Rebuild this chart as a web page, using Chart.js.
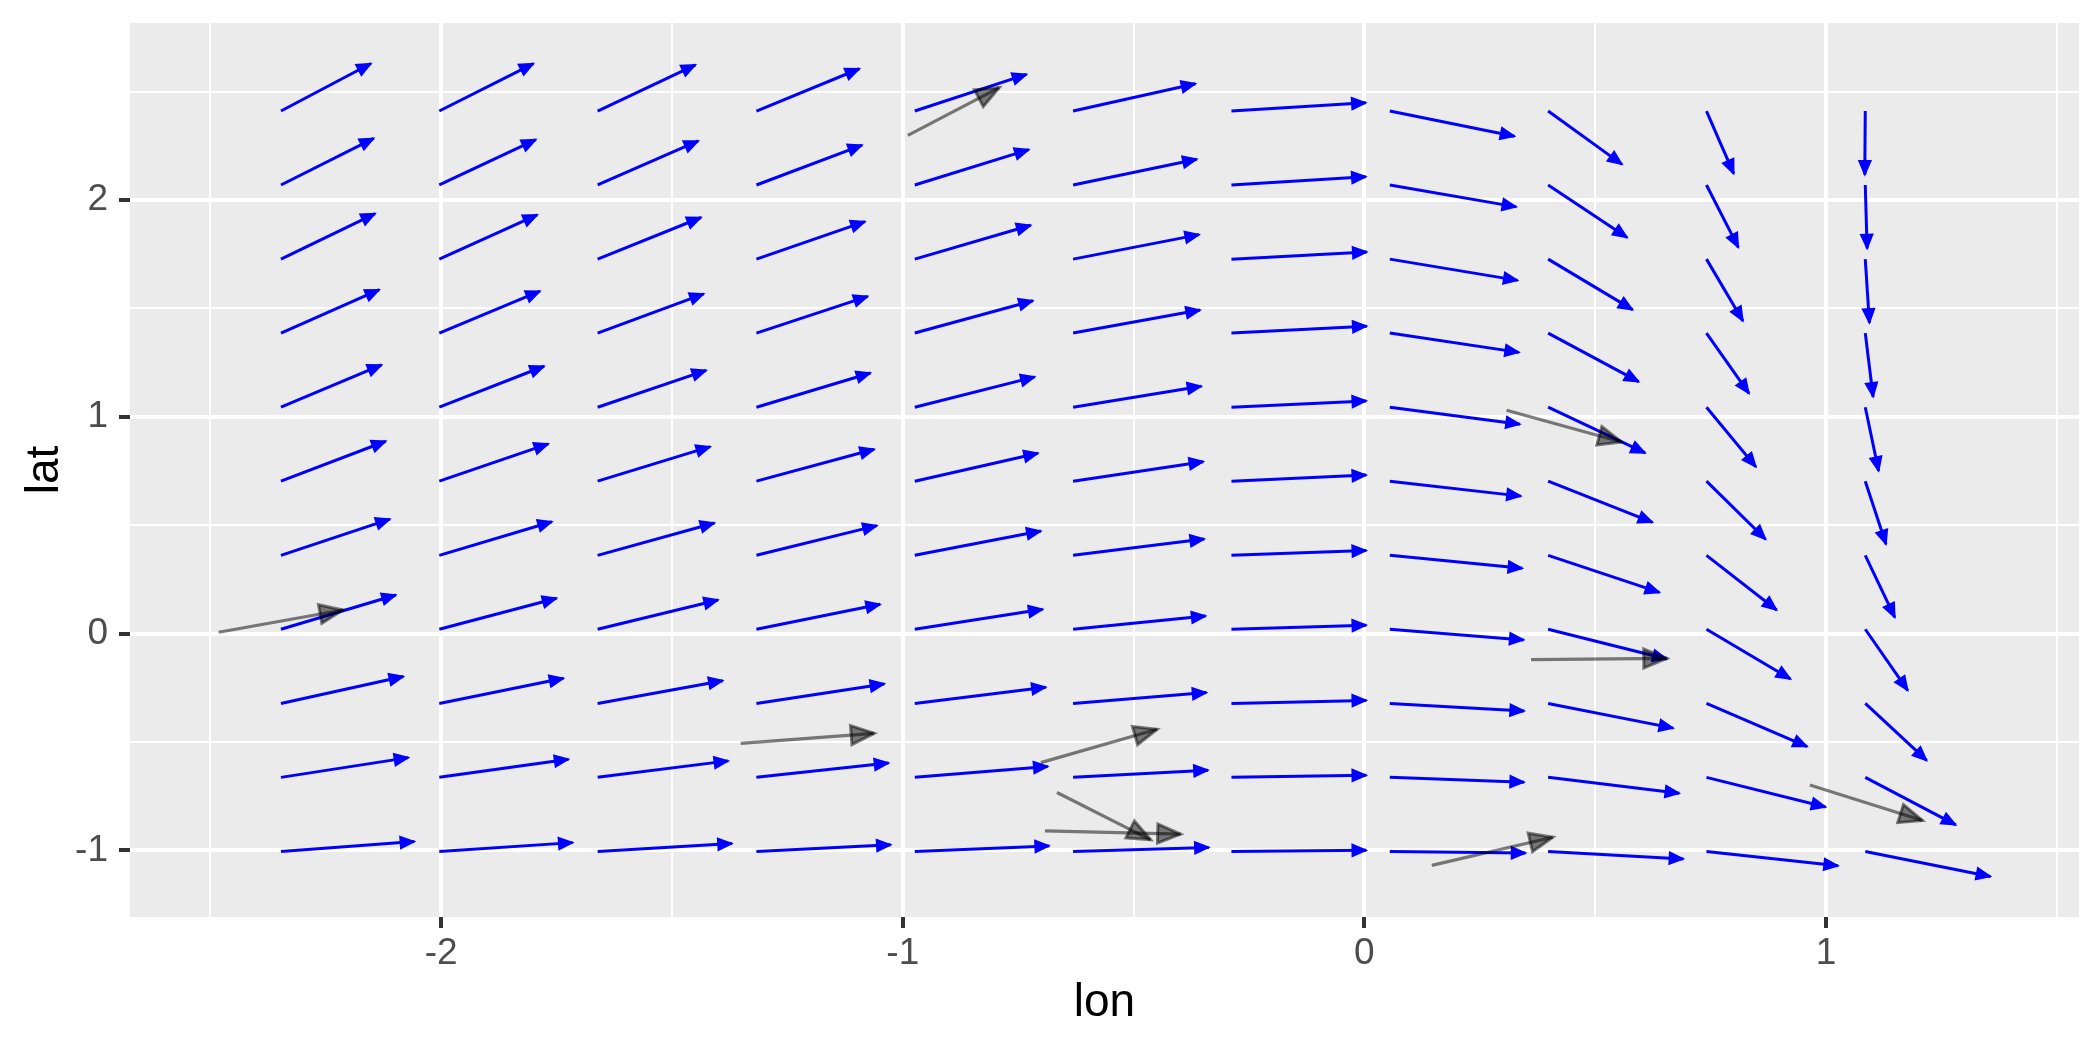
<!DOCTYPE html>
<html>
<head>
<meta charset="utf-8">
<script src="https://cdn.jsdelivr.net/npm/chart.js@4.4.1/dist/chart.umd.min.js"></script>
<style>
  html, body { margin: 0; padding: 0; background: #fff; }
  #wrap { width: 2100px; height: 1050px; }
</style>
</head>
<body>
<div id="wrap"><canvas id="field" width="2100" height="1050"></canvas></div>
<script>
// ── Arrow tails (regular grid) ──
const lonGrid = [-2.347, -2.004, -1.661, -1.317, -0.974, -0.631, -0.288, 0.055, 0.398, 0.741, 1.085];
const latGrid = [-1.005, -0.663, -0.322, 0.020, 0.361, 0.703, 1.044, 1.386, 1.727, 2.069, 2.410];

// ── Field components, one row per latGrid value (bottom row first) ──
const uRows = [
    [0.289, 0.289, 0.291, 0.291, 0.291, 0.294, 0.292, 0.294, 0.293, 0.285, 0.271],
    [0.276, 0.280, 0.283, 0.286, 0.288, 0.292, 0.292, 0.291, 0.284, 0.258, 0.196],
    [0.265, 0.269, 0.271, 0.277, 0.284, 0.289, 0.292, 0.291, 0.271, 0.218, 0.133],
    [0.249, 0.254, 0.261, 0.268, 0.277, 0.287, 0.292, 0.290, 0.257, 0.182, 0.092],
    [0.236, 0.244, 0.253, 0.261, 0.273, 0.284, 0.292, 0.287, 0.241, 0.152, 0.064],
    [0.227, 0.236, 0.244, 0.255, 0.267, 0.282, 0.292, 0.284, 0.226, 0.128, 0.045],
    [0.218, 0.227, 0.235, 0.247, 0.260, 0.278, 0.292, 0.282, 0.210, 0.107, 0.029],
    [0.213, 0.218, 0.230, 0.241, 0.256, 0.275, 0.293, 0.280, 0.196, 0.092, 0.017],
    [0.204, 0.212, 0.224, 0.235, 0.251, 0.273, 0.293, 0.277, 0.183, 0.079, 0.009],
    [0.201, 0.209, 0.218, 0.229, 0.247, 0.268, 0.291, 0.274, 0.171, 0.069, 0.004],
    [0.195, 0.204, 0.212, 0.223, 0.242, 0.265, 0.291, 0.270, 0.160, 0.059, -0.001]
];
const vRows = [
    [0.046, 0.041, 0.037, 0.031, 0.026, 0.019, 0.006, -0.007, -0.034, -0.066, -0.115],
    [0.091, 0.084, 0.076, 0.066, 0.050, 0.033, 0.010, -0.022, -0.073, -0.137, -0.219],
    [0.124, 0.116, 0.105, 0.090, 0.075, 0.050, 0.014, -0.035, -0.114, -0.199, -0.263],
    [0.158, 0.143, 0.135, 0.115, 0.092, 0.061, 0.019, -0.049, -0.137, -0.229, -0.282],
    [0.167, 0.155, 0.149, 0.137, 0.112, 0.075, 0.022, -0.060, -0.171, -0.252, -0.286],
    [0.184, 0.172, 0.159, 0.147, 0.129, 0.090, 0.028, -0.069, -0.190, -0.268, -0.291],
    [0.195, 0.189, 0.170, 0.158, 0.140, 0.097, 0.029, -0.078, -0.211, -0.275, -0.294],
    [0.200, 0.193, 0.181, 0.169, 0.149, 0.106, 0.032, -0.089, -0.224, -0.278, -0.294],
    [0.210, 0.204, 0.192, 0.173, 0.156, 0.113, 0.033, -0.098, -0.233, -0.285, -0.294],
    [0.215, 0.209, 0.203, 0.184, 0.163, 0.119, 0.038, -0.101, -0.242, -0.288, -0.293],
    [0.219, 0.219, 0.213, 0.195, 0.169, 0.126, 0.038, -0.116, -0.246, -0.289, -0.294]
];

// ── Grey track arrows ──
const trackLon0 = [-2.482, -0.989, 0.308, -1.351, -0.701, -0.666, -0.692, 0.361, 0.146, 0.965];
const trackLat0 = [0.006, 2.298, 1.030, -0.506, -0.595, -0.733, -0.910, -0.120, -1.069, -0.698];
const trackLon1 = [-2.213, -0.791, 0.557, -1.062, -0.449, -0.463, -0.398, 0.655, 0.408, 1.209];
const trackLat1 = [0.109, 2.518, 0.884, -0.460, -0.441, -0.951, -0.925, -0.114, -0.939, -0.862];

// ── Axis ticks ──
const lonTicks = [-2, -1, 0, 1];
const lonLabels = ['-2', '-1', '0', '1'];
const lonMinor = [-2.5, -1.5, -0.5, 0.5, 1.5];
const latTicks = [-1, 0, 1, 2];
const latLabels = ['-1', '0', '1', '2'];
const latMinor = [-0.5, 0.5, 1.5, 2.5];

// ── Build datasets ──
const fieldData = [];
latGrid.forEach((lat, r) => {
    lonGrid.forEach((lon, c) => {
        fieldData.push({ x: lon, y: lat, xEnd: lon + uRows[r][c], yEnd: lat + vRows[r][c] });
    });
});
const trackData = trackLon0.map((lon, i) => ({
    x: lon, y: trackLat0[i], xEnd: trackLon1[i], yEnd: trackLat1[i]
}));

const FONT = '"Liberation Sans", Arial, sans-serif';

// ── Arrow drawing plugin ──
function drawArrow(ctx, x0, y0, x1, y1, st) {
    const ang = Math.atan2(y1 - y0, x1 - x0);
    const bx = x1 - st.headLen * Math.cos(ang);
    const by = y1 - st.headLen * Math.sin(ang);
    const nx = -Math.sin(ang) * st.headHalf;
    const ny = Math.cos(ang) * st.headHalf;

    ctx.beginPath();
    ctx.moveTo(x0, y0);
    ctx.lineTo(x1, y1);
    ctx.strokeStyle = st.color;
    ctx.lineWidth = st.width;
    ctx.lineCap = 'butt';
    ctx.stroke();

    ctx.beginPath();
    ctx.moveTo(x1, y1);
    ctx.lineTo(bx + nx, by + ny);
    ctx.lineTo(bx - nx, by - ny);
    ctx.closePath();
    ctx.fillStyle = st.color;
    ctx.fill();
    ctx.lineJoin = 'miter';
    ctx.lineWidth = st.headStroke;
    ctx.stroke();
}

const arrowPlugin = {
    id: 'arrows',
    beforeDraw(chart) {
        const { ctx, chartArea: a } = chart;
        ctx.save();
        ctx.fillStyle = '#EBEBEB';
        ctx.fillRect(a.left, a.top, a.right - a.left, a.bottom - a.top);
        ctx.restore();
    },
    afterDatasetsDraw(chart) {
        const { ctx, chartArea: a, scales: { x, y } } = chart;
        ctx.save();
        ctx.beginPath();
        ctx.rect(a.left, a.top, a.right - a.left, a.bottom - a.top);
        ctx.clip();
        chart.data.datasets.forEach(ds => {
            ds.data.forEach(p => {
                drawArrow(ctx,
                    x.getPixelForValue(p.x), y.getPixelForValue(p.y),
                    x.getPixelForValue(p.xEnd), y.getPixelForValue(p.yEnd),
                    ds.arrow);
            });
        });
        ctx.restore();
    }
};

const isIn = (list, v) => list.some(t => Math.abs(t - v) < 1e-9);
const noPad = s => { s.paddingTop = 0; s.paddingBottom = 0; s.paddingLeft = 0; s.paddingRight = 0; };

// ── Chart ──
const ctx = document.getElementById('field').getContext('2d');
new Chart(ctx, {
    type: 'scatter',
    data: {
        datasets: [
            {
                label: 'field',
                data: fieldData,
                pointRadius: 0,
                arrow: { color: '#0000FF', width: 3, headLen: 14, headHalf: 6, headStroke: 1.5 }
            },
            {
                label: 'tracks',
                data: trackData,
                pointRadius: 0,
                arrow: { color: 'rgba(0,0,0,0.5)', width: 3.2, headLen: 23, headHalf: 9.5, headStroke: 3 }
            }
        ]
    },
    options: {
        responsive: false,
        devicePixelRatio: 1,
        animation: false,
        events: [],
        layout: { autoPadding: false, padding: { top: 23, right: 21, left: 0, bottom: 0 } },
        plugins: {
            legend: { display: false },
            tooltip: { enabled: false }
        },
        scales: {
            x: {
                type: 'linear',
                min: -2.674,
                max: 1.548,
                afterBuildTicks: s => { s.ticks = lonTicks.concat(lonMinor).sort((a, b) => a - b).map(v => ({ value: v })); },
                afterFit: s => { s.height = 133; noPad(s); },
                border: { display: false },
                grid: {
                    color: '#FFFFFF',
                    lineWidth: c => isIn(lonTicks, c.tick.value) ? 4 : 2,
                    drawTicks: true,
                    tickLength: 11,
                    tickWidth: 4,
                    tickColor: c => isIn(lonTicks, c.tick.value) ? '#333333' : 'rgba(0,0,0,0)'
                },
                ticks: {
                    autoSkip: false,
                    maxRotation: 0,
                    padding: 4,
                    color: '#4D4D4D',
                    font: { family: FONT, size: 37, lineHeight: 1.2 },
                    callback: v => {
                        const i = lonTicks.findIndex(t => Math.abs(t - v) < 1e-9);
                        return i >= 0 ? lonLabels[i] : '';
                    }
                },
                title: {
                    display: true,
                    text: 'lon',
                    color: '#000000',
                    font: { family: FONT, size: 46, lineHeight: 1.2 },
                    padding: { top: 0, bottom: 19 }
                }
            },
            y: {
                type: 'linear',
                min: -1.307,
                max: 2.816,
                afterBuildTicks: s => { s.ticks = latTicks.concat(latMinor).sort((a, b) => a - b).map(v => ({ value: v })); },
                afterFit: s => { s.width = 130; noPad(s); },
                border: { display: false },
                grid: {
                    color: '#FFFFFF',
                    lineWidth: c => isIn(latTicks, c.tick.value) ? 4 : 2,
                    drawTicks: true,
                    tickLength: 11,
                    tickWidth: 4,
                    tickColor: c => isIn(latTicks, c.tick.value) ? '#333333' : 'rgba(0,0,0,0)'
                },
                ticks: {
                    autoSkip: false,
                    padding: 11,
                    color: '#4D4D4D',
                    font: { family: FONT, size: 37, lineHeight: 1.2 },
                    callback: v => {
                        const i = latTicks.findIndex(t => Math.abs(t - v) < 1e-9);
                        return i >= 0 ? latLabels[i] : '';
                    }
                },
                title: {
                    display: true,
                    text: 'lat',
                    color: '#000000',
                    font: { family: FONT, size: 46, lineHeight: 1.2 },
                    padding: { top: 18, bottom: 0 }
                }
            }
        }
    },
    plugins: [arrowPlugin]
});
</script>
</body>
</html>
